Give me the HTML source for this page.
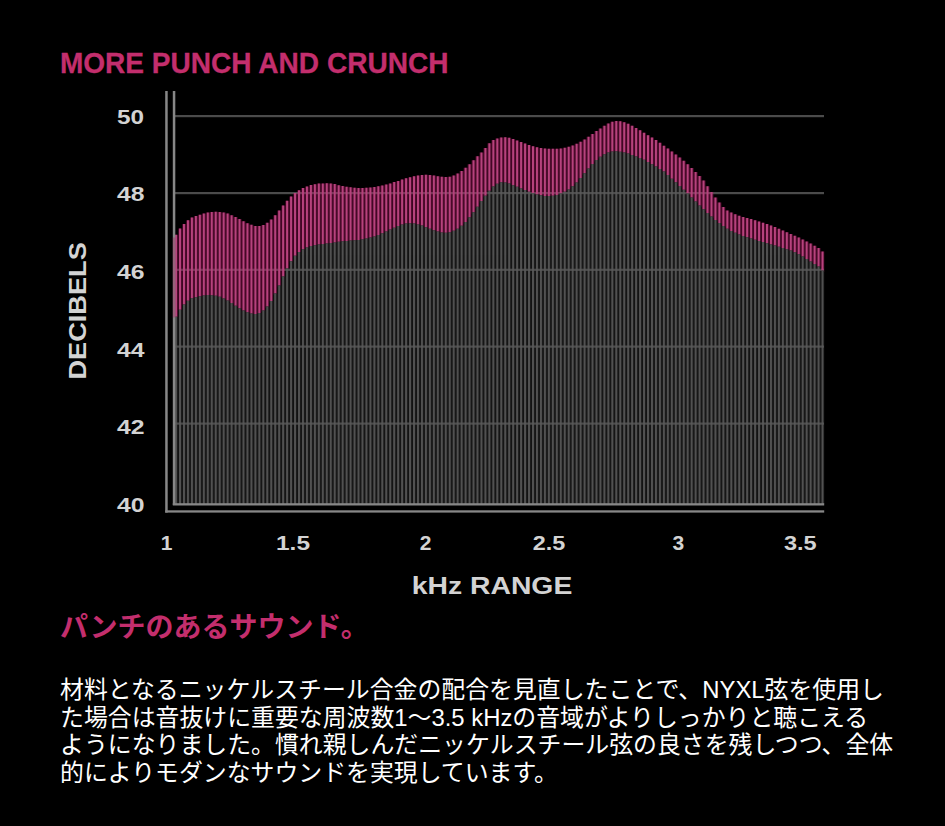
<!DOCTYPE html>
<html lang="ja">
<head>
<meta charset="utf-8">
<title>MORE PUNCH AND CRUNCH</title>
<style>
html,body{margin:0;padding:0;background:#000;}
body{width:945px;height:826px;position:relative;overflow:hidden;font-family:"Liberation Sans",sans-serif;color:#fff;}
svg.chart text.title{font-family:"Liberation Sans",sans-serif;font-weight:bold;font-size:29.2px;fill:#c32e6d;stroke:#c32e6d;stroke-width:0.3px;}
svg.chart text.ax{font-family:"Liberation Sans",sans-serif;font-weight:bold;fill:#d3d3d3;}
svg.chart{position:absolute;left:0;top:0;}
h3.sub{position:absolute;left:60px;top:610px;margin:0;font-family:"Liberation Sans","Noto Sans CJK JP",sans-serif;font-size:28px;line-height:36px;font-weight:bold;color:#c32e6d;white-space:nowrap;}
p.body{position:absolute;left:60px;top:676px;margin:0;width:870px;font-family:"Liberation Sans","Noto Sans CJK JP",sans-serif;font-size:23.88px;line-height:27.5px;color:#fff;white-space:nowrap;}
</style>
</head>
<body>
<svg class="chart" width="945" height="826" viewBox="0 0 945 826">
<defs>
<pattern id="sg" x="175.05" y="0" width="3.966" height="8" patternUnits="userSpaceOnUse"><rect x="0" y="0" width="2.1" height="8" fill="#515151"/></pattern>
<pattern id="sp" x="175.05" y="0" width="3.966" height="8" patternUnits="userSpaceOnUse"><rect x="0" y="0" width="2.1" height="8" fill="#b7427d"/></pattern>
</defs>
<g fill="#4b4b4b"><rect x="174" y="115.0" width="650" height="2.2"/><rect x="174" y="192.0" width="650" height="2.2"/><rect x="174" y="268.7" width="650" height="2.2"/><rect x="174" y="345.5" width="650" height="2.2"/><rect x="174" y="422.5" width="650" height="2.2"/></g>
<path d="M174 238.1V238.1 H174.12V234.7 H178.08V228.6 H182.05V224 H186.02V220.3 H189.98V217.6 H193.95V216.1 H197.91V214.8 H201.88V213.5 H205.85V212.6 H209.81V212 H213.78V211.7 H217.74V211.9 H221.71V212.6 H225.68V213.6 H229.64V215.2 H233.61V217.1 H237.57V219.1 H241.54V221.3 H245.51V223.2 H249.47V224.8 H253.44V225.9 H257.4V226 H261.37V225 H265.34V222.8 H269.3V219.5 H273.27V215.2 H277.23V210.4 H281.2V205.4 H285.17V200.7 H289.13V196.5 H293.1V193 H297.06V190.3 H301.03V188.1 H305V186.4 H308.96V185.1 H312.93V184.2 H316.89V183.6 H320.86V183.4 H324.83V183.3 H328.79V183.4 H332.76V184 H336.72V185.2 H340.69V186.1 H344.66V186.8 H348.62V187.3 H352.59V187.7 H356.55V187.9 H360.52V187.9 H364.49V187.7 H368.45V187.4 H372.42V186.9 H376.38V186.2 H380.35V185.4 H384.32V184.5 H388.28V183.4 H392.25V182.1 H396.21V180.9 H400.18V179.6 H404.15V178.3 H408.11V177.2 H412.08V176.2 H416.04V175.4 H420.01V174.9 H423.98V174.7 H427.94V175 H431.91V175.5 H435.87V176.2 H439.84V176.7 H443.81V177.1 H447.77V176.7 H451.74V175.4 H455.7V173.4 H459.67V170.9 H463.64V167.8 H467.6V164.2 H471.57V160.3 H475.53V156.3 H479.5V152.4 H483.47V148.1 H487.43V143.2 H491.4V140.1 H495.36V138.4 H499.33V137.5 H503.3V137.3 H507.26V137.8 H511.23V139 H515.19V140.4 H519.16V141.9 H523.13V143.5 H527.09V145.1 H531.06V146.3 H535.02V147.3 H538.99V148 H542.96V148.5 H546.92V148.8 H550.89V148.8 H554.85V148.7 H558.82V148.4 H562.78V147.7 H566.75V146.7 H570.72V145.4 H574.68V143.7 H578.65V141.7 H582.62V139.4 H586.58V136.8 H590.55V134 H594.51V131.1 H598.48V128.4 H602.45V125.8 H606.41V123.5 H610.38V121.7 H614.34V121.1 H618.31V121.3 H622.27V122.3 H626.24V123.8 H630.21V125.7 H634.17V127.9 H638.14V130.3 H642.11V132.7 H646.07V135.2 H650.04V137.5 H654V140.1 H657.97V142.8 H661.94V145.7 H665.9V148.6 H669.87V151.6 H673.83V154.6 H677.8V157.6 H681.76V160.8 H685.73V164.2 H689.7V168 H693.66V171.9 H697.63V175.9 H701.6V180.6 H705.56V186.2 H709.53V191.9 H713.49V197.4 H717.46V202.6 H721.43V207 H725.39V210.4 H729.36V212.6 H733.32V214.3 H737.29V215.7 H741.25V216.9 H745.22V218 H749.19V219.1 H753.15V220.2 H757.12V221.4 H761.09V222.7 H765.05V224.1 H769.02V225.5 H772.98V227.1 H776.95V228.8 H780.92V230.5 H784.88V232.2 H788.85V233.9 H792.81V235.7 H796.78V237.6 H800.75V239.6 H804.71V241.6 H808.68V243.6 H812.64V245.7 H816.61V247.9 H820.58V251.4 H824.3V271.9 H820.58V268.1 H816.61V265.5 H812.64V262.9 H808.68V260.4 H804.71V257.9 H800.75V255.7 H796.78V253.8 H792.81V252.1 H788.85V250.7 H784.88V249.5 H780.91V248.3 H776.95V247.1 H772.98V245.9 H769.02V244.7 H765.05V243.5 H761.09V242.4 H757.12V241.2 H753.15V240 H749.19V238.8 H745.22V237.4 H741.26V236 H737.29V234.3 H733.32V232.4 H729.36V230.2 H725.39V227.5 H721.42V224.6 H717.46V221.4 H713.49V217.9 H709.53V214.4 H705.56V210.8 H701.6V207 H697.63V203 H693.66V199.1 H689.7V195.1 H685.73V191.2 H681.77V187.4 H677.8V183.7 H673.83V180.2 H669.87V176.6 H665.9V173.1 H661.94V170.4 H657.97V168.1 H654V165.8 H650.04V163.4 H646.07V161.3 H642.11V159.6 H638.14V158 H634.17V156.5 H630.21V155.1 H626.24V154 H622.28V153.2 H618.31V152.8 H614.34V153 H610.38V153.9 H606.41V155.7 H602.45V158.3 H598.48V161.6 H594.51V165.6 H590.55V170 H586.58V174.8 H582.62V179.5 H578.65V183.9 H574.68V187.7 H570.72V190.9 H566.75V193.3 H562.79V195.1 H558.82V196.4 H554.85V197.2 H550.89V197.5 H546.92V197.4 H542.96V196.8 H538.99V195.9 H535.02V194.7 H531.06V193.2 H527.09V191.6 H523.12V189.9 H519.16V188.3 H515.19V186.7 H511.23V185.1 H507.26V183.9 H503.3V183.8 H499.33V185.2 H495.36V188.1 H491.4V192.3 H487.43V197.2 H483.47V202.6 H479.5V208.2 H475.53V213.7 H471.57V218.8 H467.6V223.4 H463.64V227.2 H459.67V230.2 H455.7V232.3 H451.74V233.7 H447.77V234.2 H443.81V234 H439.84V233 H435.87V231.8 H431.91V230.3 H427.94V228.7 H423.98V227.1 H420.01V225.9 H416.04V225 H412.08V224.7 H408.11V225.1 H404.15V226.1 H400.18V227.6 H396.21V229.3 H392.25V231.1 H388.28V233 H384.32V234.8 H380.35V236.5 H376.38V237.9 H372.42V239.1 H368.45V240.1 H364.49V240.8 H360.52V241.4 H356.55V241.8 H352.59V242.1 H348.62V242.4 H344.66V242.7 H340.69V243.3 H336.72V244 H332.76V244.5 H328.79V244.9 H324.83V245.4 H320.86V245.9 H316.89V246.7 H312.93V247.6 H308.96V248.9 H305V250.7 H301.03V253.5 H297.06V257.3 H293.1V262.8 H289.13V269.9 H285.17V278.1 H281.2V286.9 H277.23V295.1 H273.27V302.4 H269.3V308 H265.34V312 H261.37V314.4 H257.4V315.4 H253.44V315.1 H249.47V313.8 H245.51V312 H241.54V309.7 H237.57V307.2 H233.61V304.5 H229.64V302.1 H225.68V300 H221.71V298.3 H217.74V297.3 H213.78V296.7 H209.81V296.6 H205.85V297 H201.88V297.8 H197.91V298.7 H193.95V299.8 H189.98V302.3 H186.02V306.1 H182.05V311.3 H178.08V318.2 H174.12V322 H174Z" fill="#c8106a" fill-opacity="0.31"/>
<path d="M174 238.1V238.1 H174.12V234.7 H178.08V228.6 H182.05V224 H186.02V220.3 H189.98V217.6 H193.95V216.1 H197.91V214.8 H201.88V213.5 H205.85V212.6 H209.81V212 H213.78V211.7 H217.74V211.9 H221.71V212.6 H225.68V213.6 H229.64V215.2 H233.61V217.1 H237.57V219.1 H241.54V221.3 H245.51V223.2 H249.47V224.8 H253.44V225.9 H257.4V226 H261.37V225 H265.34V222.8 H269.3V219.5 H273.27V215.2 H277.23V210.4 H281.2V205.4 H285.17V200.7 H289.13V196.5 H293.1V193 H297.06V190.3 H301.03V188.1 H305V186.4 H308.96V185.1 H312.93V184.2 H316.89V183.6 H320.86V183.4 H324.83V183.3 H328.79V183.4 H332.76V184 H336.72V185.2 H340.69V186.1 H344.66V186.8 H348.62V187.3 H352.59V187.7 H356.55V187.9 H360.52V187.9 H364.49V187.7 H368.45V187.4 H372.42V186.9 H376.38V186.2 H380.35V185.4 H384.32V184.5 H388.28V183.4 H392.25V182.1 H396.21V180.9 H400.18V179.6 H404.15V178.3 H408.11V177.2 H412.08V176.2 H416.04V175.4 H420.01V174.9 H423.98V174.7 H427.94V175 H431.91V175.5 H435.87V176.2 H439.84V176.7 H443.81V177.1 H447.77V176.7 H451.74V175.4 H455.7V173.4 H459.67V170.9 H463.64V167.8 H467.6V164.2 H471.57V160.3 H475.53V156.3 H479.5V152.4 H483.47V148.1 H487.43V143.2 H491.4V140.1 H495.36V138.4 H499.33V137.5 H503.3V137.3 H507.26V137.8 H511.23V139 H515.19V140.4 H519.16V141.9 H523.13V143.5 H527.09V145.1 H531.06V146.3 H535.02V147.3 H538.99V148 H542.96V148.5 H546.92V148.8 H550.89V148.8 H554.85V148.7 H558.82V148.4 H562.78V147.7 H566.75V146.7 H570.72V145.4 H574.68V143.7 H578.65V141.7 H582.62V139.4 H586.58V136.8 H590.55V134 H594.51V131.1 H598.48V128.4 H602.45V125.8 H606.41V123.5 H610.38V121.7 H614.34V121.1 H618.31V121.3 H622.27V122.3 H626.24V123.8 H630.21V125.7 H634.17V127.9 H638.14V130.3 H642.11V132.7 H646.07V135.2 H650.04V137.5 H654V140.1 H657.97V142.8 H661.94V145.7 H665.9V148.6 H669.87V151.6 H673.83V154.6 H677.8V157.6 H681.76V160.8 H685.73V164.2 H689.7V168 H693.66V171.9 H697.63V175.9 H701.6V180.6 H705.56V186.2 H709.53V191.9 H713.49V197.4 H717.46V202.6 H721.43V207 H725.39V210.4 H729.36V212.6 H733.32V214.3 H737.29V215.7 H741.25V216.9 H745.22V218 H749.19V219.1 H753.15V220.2 H757.12V221.4 H761.09V222.7 H765.05V224.1 H769.02V225.5 H772.98V227.1 H776.95V228.8 H780.92V230.5 H784.88V232.2 H788.85V233.9 H792.81V235.7 H796.78V237.6 H800.75V239.6 H804.71V241.6 H808.68V243.6 H812.64V245.7 H816.61V247.9 H820.58V251.4 H824.3V271.9 H820.58V268.1 H816.61V265.5 H812.64V262.9 H808.68V260.4 H804.71V257.9 H800.75V255.7 H796.78V253.8 H792.81V252.1 H788.85V250.7 H784.88V249.5 H780.91V248.3 H776.95V247.1 H772.98V245.9 H769.02V244.7 H765.05V243.5 H761.09V242.4 H757.12V241.2 H753.15V240 H749.19V238.8 H745.22V237.4 H741.26V236 H737.29V234.3 H733.32V232.4 H729.36V230.2 H725.39V227.5 H721.42V224.6 H717.46V221.4 H713.49V217.9 H709.53V214.4 H705.56V210.8 H701.6V207 H697.63V203 H693.66V199.1 H689.7V195.1 H685.73V191.2 H681.77V187.4 H677.8V183.7 H673.83V180.2 H669.87V176.6 H665.9V173.1 H661.94V170.4 H657.97V168.1 H654V165.8 H650.04V163.4 H646.07V161.3 H642.11V159.6 H638.14V158 H634.17V156.5 H630.21V155.1 H626.24V154 H622.28V153.2 H618.31V152.8 H614.34V153 H610.38V153.9 H606.41V155.7 H602.45V158.3 H598.48V161.6 H594.51V165.6 H590.55V170 H586.58V174.8 H582.62V179.5 H578.65V183.9 H574.68V187.7 H570.72V190.9 H566.75V193.3 H562.79V195.1 H558.82V196.4 H554.85V197.2 H550.89V197.5 H546.92V197.4 H542.96V196.8 H538.99V195.9 H535.02V194.7 H531.06V193.2 H527.09V191.6 H523.12V189.9 H519.16V188.3 H515.19V186.7 H511.23V185.1 H507.26V183.9 H503.3V183.8 H499.33V185.2 H495.36V188.1 H491.4V192.3 H487.43V197.2 H483.47V202.6 H479.5V208.2 H475.53V213.7 H471.57V218.8 H467.6V223.4 H463.64V227.2 H459.67V230.2 H455.7V232.3 H451.74V233.7 H447.77V234.2 H443.81V234 H439.84V233 H435.87V231.8 H431.91V230.3 H427.94V228.7 H423.98V227.1 H420.01V225.9 H416.04V225 H412.08V224.7 H408.11V225.1 H404.15V226.1 H400.18V227.6 H396.21V229.3 H392.25V231.1 H388.28V233 H384.32V234.8 H380.35V236.5 H376.38V237.9 H372.42V239.1 H368.45V240.1 H364.49V240.8 H360.52V241.4 H356.55V241.8 H352.59V242.1 H348.62V242.4 H344.66V242.7 H340.69V243.3 H336.72V244 H332.76V244.5 H328.79V244.9 H324.83V245.4 H320.86V245.9 H316.89V246.7 H312.93V247.6 H308.96V248.9 H305V250.7 H301.03V253.5 H297.06V257.3 H293.1V262.8 H289.13V269.9 H285.17V278.1 H281.2V286.9 H277.23V295.1 H273.27V302.4 H269.3V308 H265.34V312 H261.37V314.4 H257.4V315.4 H253.44V315.1 H249.47V313.8 H245.51V312 H241.54V309.7 H237.57V307.2 H233.61V304.5 H229.64V302.1 H225.68V300 H221.71V298.3 H217.74V297.3 H213.78V296.7 H209.81V296.6 H205.85V297 H201.88V297.8 H197.91V298.7 H193.95V299.8 H189.98V302.3 H186.02V306.1 H182.05V311.3 H178.08V318.2 H174.12V322 H174Z" fill="url(#sp)"/>
<path d="M174 320.5V320.5 H174.12V316.7 H178.08V309.8 H182.05V304.6 H186.02V300.8 H189.98V298.3 H193.95V297.2 H197.91V296.3 H201.88V295.5 H205.85V295.1 H209.81V295.2 H213.78V295.8 H217.74V296.8 H221.71V298.5 H225.68V300.6 H229.64V303 H233.61V305.7 H237.57V308.2 H241.54V310.5 H245.51V312.3 H249.47V313.6 H253.44V313.9 H257.4V312.9 H261.37V310.5 H265.34V306.5 H269.3V300.9 H273.27V293.6 H277.23V285.4 H281.2V276.6 H285.17V268.4 H289.13V261.3 H293.1V255.8 H297.06V252 H301.03V249.2 H305V247.4 H308.96V246.1 H312.93V245.2 H316.89V244.4 H320.86V243.9 H324.83V243.4 H328.79V243 H332.76V242.5 H336.72V241.8 H340.69V241.2 H344.66V240.9 H348.62V240.6 H352.59V240.3 H356.55V239.9 H360.52V239.3 H364.49V238.6 H368.45V237.6 H372.42V236.4 H376.38V235 H380.35V233.3 H384.32V231.5 H388.28V229.6 H392.25V227.8 H396.21V226.1 H400.18V224.6 H404.15V223.6 H408.11V223.2 H412.08V223.5 H416.04V224.4 H420.01V225.6 H423.98V227.2 H427.94V228.8 H431.91V230.3 H435.87V231.5 H439.84V232.5 H443.81V232.7 H447.77V232.2 H451.74V230.8 H455.7V228.7 H459.67V225.7 H463.64V221.9 H467.6V217.3 H471.57V212.2 H475.53V206.7 H479.5V201.1 H483.47V195.7 H487.43V190.8 H491.4V186.6 H495.36V183.7 H499.33V182.3 H503.3V182.4 H507.26V183.6 H511.23V185.2 H515.19V186.8 H519.16V188.4 H523.13V190.1 H527.09V191.7 H531.06V193.2 H535.02V194.4 H538.99V195.3 H542.96V195.9 H546.92V196 H550.89V195.7 H554.85V194.9 H558.82V193.6 H562.78V191.8 H566.75V189.4 H570.72V186.2 H574.68V182.4 H578.65V178 H582.62V173.3 H586.58V168.5 H590.55V164.1 H594.51V160.1 H598.48V156.8 H602.45V154.2 H606.41V152.4 H610.38V151.5 H614.34V151.3 H618.31V151.7 H622.27V152.5 H626.24V153.6 H630.21V155 H634.17V156.5 H638.14V158.1 H642.11V159.8 H646.07V161.9 H650.04V164.3 H654V166.6 H657.97V168.9 H661.94V171.6 H665.9V175.1 H669.87V178.7 H673.83V182.2 H677.8V185.9 H681.76V189.7 H685.73V193.6 H689.7V197.6 H693.66V201.5 H697.63V205.5 H701.6V209.3 H705.56V212.9 H709.53V216.4 H713.49V219.9 H717.46V223.1 H721.43V226 H725.39V228.7 H729.36V230.9 H733.32V232.8 H737.29V234.5 H741.25V235.9 H745.22V237.3 H749.19V238.5 H753.15V239.7 H757.12V240.9 H761.09V242 H765.05V243.2 H769.02V244.4 H772.98V245.6 H776.95V246.8 H780.92V248 H784.88V249.2 H788.85V250.6 H792.81V252.3 H796.78V254.2 H800.75V256.4 H804.71V258.9 H808.68V261.4 H812.64V264 H816.61V266.6 H820.58V270.4 H824.3V504 H174Z" fill="#131313"/>
<path d="M174 320.5V320.5 H174.12V316.7 H178.08V309.8 H182.05V304.6 H186.02V300.8 H189.98V298.3 H193.95V297.2 H197.91V296.3 H201.88V295.5 H205.85V295.1 H209.81V295.2 H213.78V295.8 H217.74V296.8 H221.71V298.5 H225.68V300.6 H229.64V303 H233.61V305.7 H237.57V308.2 H241.54V310.5 H245.51V312.3 H249.47V313.6 H253.44V313.9 H257.4V312.9 H261.37V310.5 H265.34V306.5 H269.3V300.9 H273.27V293.6 H277.23V285.4 H281.2V276.6 H285.17V268.4 H289.13V261.3 H293.1V255.8 H297.06V252 H301.03V249.2 H305V247.4 H308.96V246.1 H312.93V245.2 H316.89V244.4 H320.86V243.9 H324.83V243.4 H328.79V243 H332.76V242.5 H336.72V241.8 H340.69V241.2 H344.66V240.9 H348.62V240.6 H352.59V240.3 H356.55V239.9 H360.52V239.3 H364.49V238.6 H368.45V237.6 H372.42V236.4 H376.38V235 H380.35V233.3 H384.32V231.5 H388.28V229.6 H392.25V227.8 H396.21V226.1 H400.18V224.6 H404.15V223.6 H408.11V223.2 H412.08V223.5 H416.04V224.4 H420.01V225.6 H423.98V227.2 H427.94V228.8 H431.91V230.3 H435.87V231.5 H439.84V232.5 H443.81V232.7 H447.77V232.2 H451.74V230.8 H455.7V228.7 H459.67V225.7 H463.64V221.9 H467.6V217.3 H471.57V212.2 H475.53V206.7 H479.5V201.1 H483.47V195.7 H487.43V190.8 H491.4V186.6 H495.36V183.7 H499.33V182.3 H503.3V182.4 H507.26V183.6 H511.23V185.2 H515.19V186.8 H519.16V188.4 H523.13V190.1 H527.09V191.7 H531.06V193.2 H535.02V194.4 H538.99V195.3 H542.96V195.9 H546.92V196 H550.89V195.7 H554.85V194.9 H558.82V193.6 H562.78V191.8 H566.75V189.4 H570.72V186.2 H574.68V182.4 H578.65V178 H582.62V173.3 H586.58V168.5 H590.55V164.1 H594.51V160.1 H598.48V156.8 H602.45V154.2 H606.41V152.4 H610.38V151.5 H614.34V151.3 H618.31V151.7 H622.27V152.5 H626.24V153.6 H630.21V155 H634.17V156.5 H638.14V158.1 H642.11V159.8 H646.07V161.9 H650.04V164.3 H654V166.6 H657.97V168.9 H661.94V171.6 H665.9V175.1 H669.87V178.7 H673.83V182.2 H677.8V185.9 H681.76V189.7 H685.73V193.6 H689.7V197.6 H693.66V201.5 H697.63V205.5 H701.6V209.3 H705.56V212.9 H709.53V216.4 H713.49V219.9 H717.46V223.1 H721.43V226 H725.39V228.7 H729.36V230.9 H733.32V232.8 H737.29V234.5 H741.25V235.9 H745.22V237.3 H749.19V238.5 H753.15V239.7 H757.12V240.9 H761.09V242 H765.05V243.2 H769.02V244.4 H772.98V245.6 H776.95V246.8 H780.92V248 H784.88V249.2 H788.85V250.6 H792.81V252.3 H796.78V254.2 H800.75V256.4 H804.71V258.9 H808.68V261.4 H812.64V264 H816.61V266.6 H820.58V270.4 H824.3V504 H174Z" fill="url(#sg)"/>
<clipPath id="cg"><path d="M174 320.5V320.5 H174.12V316.7 H178.08V309.8 H182.05V304.6 H186.02V300.8 H189.98V298.3 H193.95V297.2 H197.91V296.3 H201.88V295.5 H205.85V295.1 H209.81V295.2 H213.78V295.8 H217.74V296.8 H221.71V298.5 H225.68V300.6 H229.64V303 H233.61V305.7 H237.57V308.2 H241.54V310.5 H245.51V312.3 H249.47V313.6 H253.44V313.9 H257.4V312.9 H261.37V310.5 H265.34V306.5 H269.3V300.9 H273.27V293.6 H277.23V285.4 H281.2V276.6 H285.17V268.4 H289.13V261.3 H293.1V255.8 H297.06V252 H301.03V249.2 H305V247.4 H308.96V246.1 H312.93V245.2 H316.89V244.4 H320.86V243.9 H324.83V243.4 H328.79V243 H332.76V242.5 H336.72V241.8 H340.69V241.2 H344.66V240.9 H348.62V240.6 H352.59V240.3 H356.55V239.9 H360.52V239.3 H364.49V238.6 H368.45V237.6 H372.42V236.4 H376.38V235 H380.35V233.3 H384.32V231.5 H388.28V229.6 H392.25V227.8 H396.21V226.1 H400.18V224.6 H404.15V223.6 H408.11V223.2 H412.08V223.5 H416.04V224.4 H420.01V225.6 H423.98V227.2 H427.94V228.8 H431.91V230.3 H435.87V231.5 H439.84V232.5 H443.81V232.7 H447.77V232.2 H451.74V230.8 H455.7V228.7 H459.67V225.7 H463.64V221.9 H467.6V217.3 H471.57V212.2 H475.53V206.7 H479.5V201.1 H483.47V195.7 H487.43V190.8 H491.4V186.6 H495.36V183.7 H499.33V182.3 H503.3V182.4 H507.26V183.6 H511.23V185.2 H515.19V186.8 H519.16V188.4 H523.13V190.1 H527.09V191.7 H531.06V193.2 H535.02V194.4 H538.99V195.3 H542.96V195.9 H546.92V196 H550.89V195.7 H554.85V194.9 H558.82V193.6 H562.78V191.8 H566.75V189.4 H570.72V186.2 H574.68V182.4 H578.65V178 H582.62V173.3 H586.58V168.5 H590.55V164.1 H594.51V160.1 H598.48V156.8 H602.45V154.2 H606.41V152.4 H610.38V151.5 H614.34V151.3 H618.31V151.7 H622.27V152.5 H626.24V153.6 H630.21V155 H634.17V156.5 H638.14V158.1 H642.11V159.8 H646.07V161.9 H650.04V164.3 H654V166.6 H657.97V168.9 H661.94V171.6 H665.9V175.1 H669.87V178.7 H673.83V182.2 H677.8V185.9 H681.76V189.7 H685.73V193.6 H689.7V197.6 H693.66V201.5 H697.63V205.5 H701.6V209.3 H705.56V212.9 H709.53V216.4 H713.49V219.9 H717.46V223.1 H721.43V226 H725.39V228.7 H729.36V230.9 H733.32V232.8 H737.29V234.5 H741.25V235.9 H745.22V237.3 H749.19V238.5 H753.15V239.7 H757.12V240.9 H761.09V242 H765.05V243.2 H769.02V244.4 H772.98V245.6 H776.95V246.8 H780.92V248 H784.88V249.2 H788.85V250.6 H792.81V252.3 H796.78V254.2 H800.75V256.4 H804.71V258.9 H808.68V261.4 H812.64V264 H816.61V266.6 H820.58V270.4 H824.3V504 H174Z"/></clipPath>
<g fill="#5a5a5a" opacity="0.8" clip-path="url(#cg)"><rect x="174" y="115.0" width="650" height="2.2"/><rect x="174" y="192.0" width="650" height="2.2"/><rect x="174" y="268.7" width="650" height="2.2"/><rect x="174" y="345.5" width="650" height="2.2"/><rect x="174" y="422.5" width="650" height="2.2"/></g>
<g fill="#878787">
<rect x="165.2" y="91" width="2.5" height="421.6"/>
<rect x="172.8" y="91" width="2.5" height="414"/>
<rect x="172.8" y="503.2" width="651.4" height="2.3"/>
<rect x="165.2" y="510.3" width="659" height="2.3"/>
</g>
<text class="title" x="59.9" y="72.75" textLength="388.6" lengthAdjust="spacingAndGlyphs">MORE PUNCH AND CRUNCH</text>
<rect x="172.8" y="237.5" width="2.5" height="80" fill="#b02a68" opacity="0.4"/>
<g>
<text class="ax" x="117" y="123.6" font-size="21" textLength="27" lengthAdjust="spacingAndGlyphs">50</text>
<text class="ax" x="117" y="201.4" font-size="21" textLength="27.5" lengthAdjust="spacingAndGlyphs">48</text>
<text class="ax" x="117" y="279.3" font-size="21" textLength="27.5" lengthAdjust="spacingAndGlyphs">46</text>
<text class="ax" x="117" y="356.9" font-size="21" textLength="27.5" lengthAdjust="spacingAndGlyphs">44</text>
<text class="ax" x="117" y="434.4" font-size="21" textLength="27.5" lengthAdjust="spacingAndGlyphs">42</text>
<text class="ax" x="117" y="512.1" font-size="21" textLength="27.5" lengthAdjust="spacingAndGlyphs">40</text>
<text class="ax" x="160.8" y="550.4" font-size="21">1</text>
<text class="ax" x="276" y="550.4" font-size="21" textLength="34" lengthAdjust="spacingAndGlyphs">1.5</text>
<text class="ax" x="419.7" y="550.4" font-size="21">2</text>
<text class="ax" x="532.8" y="550.4" font-size="21" textLength="32.5" lengthAdjust="spacingAndGlyphs">2.5</text>
<text class="ax" x="672.4" y="550.4" font-size="21">3</text>
<text class="ax" x="784" y="550.4" font-size="21" textLength="32.7" lengthAdjust="spacingAndGlyphs">3.5</text>
<text class="ax" x="411.8" y="594.2" font-size="24" textLength="160.5" lengthAdjust="spacingAndGlyphs">kHz RANGE</text>
<text class="ax" x="0" y="0" font-size="24" textLength="137.4" lengthAdjust="spacingAndGlyphs" transform="translate(85.8 379.61) rotate(-90)">DECIBELS</text>
</g>
</svg>
<h3 class="sub">パンチのあるサウンド。</h3>
<p class="body">材料となるニッケルスチール合金の配合を見直したことで、NYXL弦を使用し<br>た場合は音抜けに重要な周波数1〜3.5 kHzの音域がよりしっかりと聴こえる<br>ようになりました。慣れ親しんだニッケルスチール弦の良さを残しつつ、全体<br>的によりモダンなサウンドを実現しています。</p>
</body>
</html>
